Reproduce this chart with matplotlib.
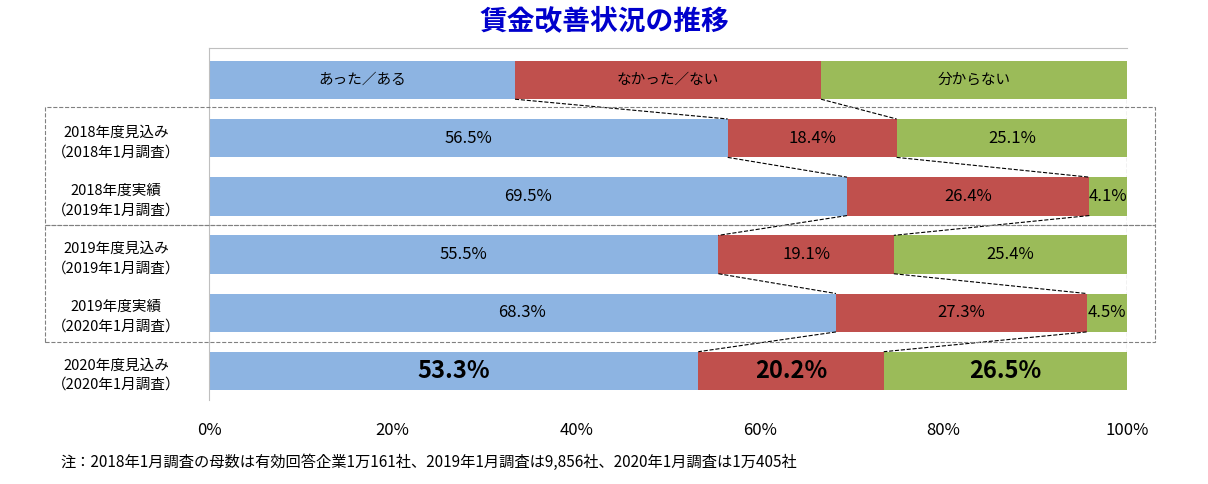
import matplotlib.pyplot as plt
from matplotlib.patches import Rectangle
import numpy as np

plt.rcParams['font.family'] = 'Noto Sans CJK JP'

rows = ['2018年度見込み\n（2018年1月調査）', '2018年度実績\n（2019年1月調査）',
        '2019年度見込み\n（2019年1月調査）', '2019年度実績\n（2020年1月調査）',
        '2020年度見込み\n（2020年1月調査）']
yes = [56.5, 69.5, 55.5, 68.3, 53.3]
no = [18.4, 26.4, 19.1, 27.3, 20.2]
unknown = [25.1, 4.1, 25.4, 4.5, 26.5]
legend_names = ['あった／ある', 'なかった／ない', '分からない']
colors = ['#8DB4E2', '#C0504D', '#9BBB59']
xticks = [0, 20, 40, 60, 80, 100]

fig = plt.figure(figsize=(12.08, 4.84), dpi=100)
ax = fig.add_axes([209/1208, 1-400/484, 918/1208, 352/484])
h = 0.66

# legend row on top
leg_vals = [100/3, 100/3, 100/3]
left = 0
for v, c, name in zip(leg_vals, colors, legend_names):
    ax.barh(0, v, left=left, height=h, color=c)
    ax.text(left + v/2, 0, name, ha='center', va='center', fontsize=10.5)
    left += v

data = np.array([yes, no, unknown]).T
for i, vals in enumerate(data):
    y = i + 1
    left = 0
    last = i == len(data) - 1
    for v, c in zip(vals, colors):
        ax.barh(y, v, left=left, height=h, color=c)
        ax.text(left + v/2, y, f'{v:.1f}%', ha='center', va='center',
                fontsize=17 if last else 12, fontweight='bold' if last else 'normal')
        left += v

# dashed connectors
all_rows = [leg_vals] + [list(r) for r in data]
for i in range(len(all_rows) - 1):
    c1 = np.cumsum(all_rows[i])[:2]
    c2 = np.cumsum(all_rows[i+1])[:2]
    for a, b in zip(c1, c2):
        ax.plot([a, b], [i + h/2, i + 1 - h/2], color='black', ls='--', lw=0.8)
    ax.plot([100, 100], [i + h/2, i + 1 - h/2], color='black', ls='--', lw=0.8)

ax.set_xlim(0, 100)
ax.set_ylim(5.5, -0.55)
ax.set_xticks(xticks)
ax.set_xticklabels([f'{t}%' for t in xticks], fontsize=12)
ax.tick_params(axis='x', length=0, pad=16)
ax.set_yticks(range(1, 6))
ax.set_yticklabels(rows, fontsize=10.5, linespacing=1.5)
ax.tick_params(axis='y', length=0, pad=14)
for lab in ax.get_yticklabels():
    lab.set_ha('center')
    lab.set_x(-0.08)
for s in ['right', 'bottom']:
    ax.spines[s].set_visible(False)
for s in ['top', 'left']:
    ax.spines[s].set_color('#BFBFBF')

# dashed group boxes
for y0, y1 in [(107, 225), (225, 342)]:
    fig.add_artist(Rectangle((45/1208, 1-y1/484), 1110/1208, (y1-y0)/484,
                             transform=fig.transFigure, fill=False,
                             ls='--', lw=0.8, edgecolor='#808080'))

fig.text(0.5, 1-22/484, '賃金改善状況の推移', ha='center', va='center',
         fontsize=20, fontweight='bold', color='#0000CC')
fig.text(60/1208, 1-462/484,
         '注：2018年1月調査の母数は有効回答企業1万161社、2019年1月調査は9,856社、2020年1月調査は1万405社',
         ha='left', va='center', fontsize=11)

fig.savefig('out.png', dpi=100)
